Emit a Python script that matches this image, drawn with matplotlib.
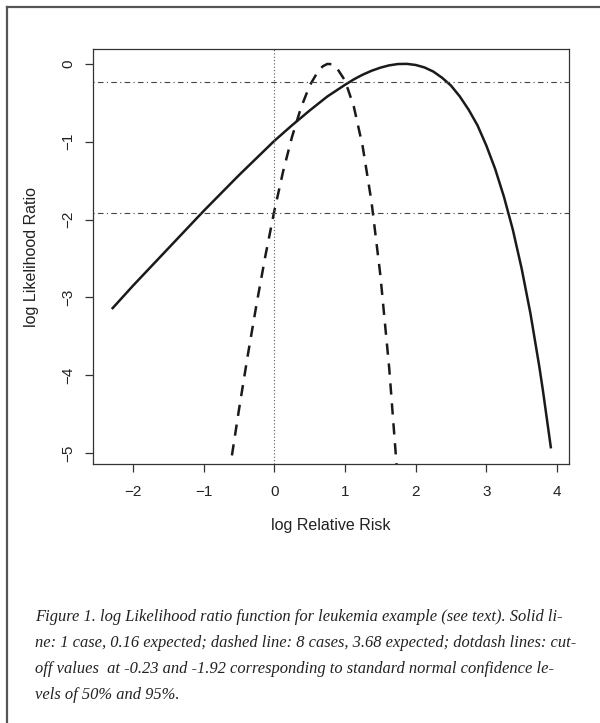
import matplotlib.pyplot as plt
from matplotlib.lines import Line2D

# log relative risk (x) and log likelihood ratio (y)
solid_x = [-2.30, -2.00, -1.75, -1.50, -1.25, -1.00, -0.75, -0.50, -0.25, 0.00,
           0.25, 0.50, 0.75, 1.00, 1.125, 1.25, 1.375, 1.50, 1.625, 1.75, 1.875,
           2.00, 2.125, 2.25, 2.375, 2.50, 2.625, 2.75, 2.875, 3.00, 3.125,
           3.25, 3.375, 3.50, 3.625, 3.75, 3.80, 3.915]
solid_y = [-3.15, -2.85, -2.61, -2.37, -2.13, -1.89, -1.66, -1.43, -1.21, -0.99,
           -0.79, -0.60, -0.42, -0.27, -0.20, -0.14, -0.09, -0.05, -0.02, -0.003, -0.001,
           -0.015, -0.047, -0.10, -0.18, -0.28, -0.42, -0.59, -0.79, -1.05, -1.35,
           -1.71, -2.13, -2.63, -3.21, -3.89, -4.19, -4.94]

dashed_x = [-0.60, -0.50, -0.375, -0.25, -0.125, 0.00, 0.125, 0.25, 0.375, 0.50,
            0.625, 0.6875, 0.75, 0.8125, 0.875, 1.00, 1.125, 1.25, 1.375, 1.50,
            1.625, 1.75]
dashed_y = [-5.03, -4.44, -3.74, -3.08, -2.46, -1.89, -1.38, -0.94, -0.57, -0.28,
            -0.087, -0.031, -0.002, -0.005, -0.040, -0.215, -0.55, -1.06, -1.77, -2.71,
            -3.90, -5.39]

cutoffs = [-0.23, -1.92]

x_ticks = [-2, -1, 0, 1, 2, 3, 4]
y_ticks = [0, -1, -2, -3, -4, -5]

caption = [
    "Figure 1. log Likelihood ratio function for leukemia example (see text). Solid li-",
    "ne: 1 case, 0.16 expected; dashed line: 8 cases, 3.68 expected; dotdash lines: cut-",
    "off values  at -0.23 and -1.92 corresponding to standard normal confidence le-",
    "vels of 50% and 95%.",
]

W, H = 600, 723
fig = plt.figure(figsize=(W / 100, H / 100), dpi=100)
fig.patch.set_facecolor("white")

# page frame (left and top edges visible)
fig.add_artist(Line2D([7 / W, 7 / W], [0, 1 - 7 / H], color="#555555", lw=1.6))
fig.add_artist(Line2D([7 / W, 1], [1 - 7 / H, 1 - 7 / H], color="#555555", lw=1.6))

left, right, top, bottom = 93, 569, 49, 464
ax = fig.add_axes([left / W, 1 - bottom / H, (right - left) / W, (bottom - top) / H])

ax.plot(solid_x, solid_y, color="#1a1a1a", lw=1.8, solid_capstyle="butt")
ax.plot(dashed_x, dashed_y, color="#1a1a1a", lw=1.8, dashes=(4.5, 3.5))
for c in cutoffs:
    ax.axhline(c, color="#444444", lw=0.8, dashes=(1, 3, 5, 3))
ax.axvline(0, color="#555555", lw=0.8, dashes=(1, 2))

ax.set_xlim(-2.566, 4.17)
ax.set_ylim(-5.14, 0.19)
ax.set_xticks(x_ticks)
ax.set_xticklabels(["\u22122", "\u22121", "0", "1", "2", "3", "4"])
ax.set_yticks(y_ticks)
ax.set_yticklabels(["0", "\u22121", "\u22122", "\u22123", "\u22124", "\u22125"],
                   rotation=90, va="center")

for s in ax.spines.values():
    s.set_color("#333333")
    s.set_linewidth(0.9)
ax.tick_params(direction="out", length=6, width=0.9, color="#333333",
               labelsize=11, labelcolor="#222222", pad=9)
ax.tick_params(axis="y", pad=7)
for lab in ax.get_xticklabels() + ax.get_yticklabels():
    lab.set_family("Liberation Sans")

ax.set_xlabel("log Relative Risk", family="Liberation Sans", fontsize=11.5,
              color="#222222", labelpad=14)
ax.set_ylabel("log Likelihood Ratio", family="Liberation Sans", fontsize=11.5,
              color="#222222", labelpad=16)

for i, line in enumerate(caption):
    fig.text(35 / W, 1 - (617 + 26 * i) / H, line, family="Liberation Serif",
             style="italic", fontsize=11.9, color="#222222", va="center", ha="left")

fig.savefig("out.png", dpi=100)
